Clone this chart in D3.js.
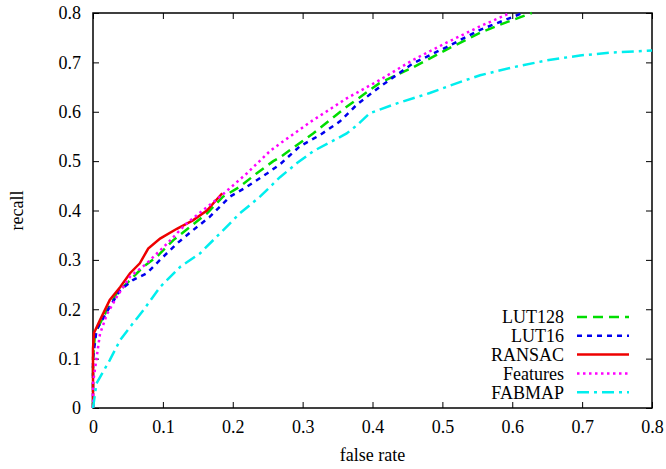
<!DOCTYPE html>
<html>
<head>
<meta charset="utf-8">
<script src="https://cdn.jsdelivr.net/npm/d3@7"></script>
<style>
body { margin: 0; background: #fff; }
svg text { font-family: "Liberation Serif", "Times New Roman", serif; font-size: 18px; fill: #000; }
</style>
</head>
<body>
<script>
// tick values
var xTicks = [0, 0.1, 0.2, 0.3, 0.4, 0.5, 0.6, 0.7, 0.8];
var yTicks = [0, 0.1, 0.2, 0.3, 0.4, 0.5, 0.6, 0.7, 0.8];

// curves: [false rate, recall]
var lut128 = [[0,0],[0,0.1],[0.003,0.152],[0.015,0.185],[0.034,0.232],[0.053,0.259],[0.072,0.286],[0.091,0.306],
  [0.115,0.34],[0.139,0.367],[0.163,0.394],[0.186,0.428],[0.21,0.448],[0.234,0.475],[0.258,0.5],[0.268,0.508],
  [0.315,0.556],[0.363,0.61],[0.41,0.658],[0.458,0.69],[0.506,0.726],[0.554,0.76],[0.582,0.776],[0.628,0.8]];
var lut16 = [[0,0],[0,0.1],[0.005,0.158],[0.024,0.205],[0.039,0.239],[0.057,0.259],[0.077,0.273],[0.096,0.3],
  [0.12,0.333],[0.143,0.36],[0.167,0.387],[0.196,0.428],[0.22,0.448],[0.249,0.475],[0.268,0.494],[0.296,0.53],
  [0.325,0.553],[0.353,0.58],[0.378,0.615],[0.41,0.65],[0.458,0.698],[0.506,0.731],[0.554,0.766],[0.615,0.8]];
var ransac = [[0,0],[0,0.12],[0.0014,0.152],[0.01,0.178],[0.024,0.219],[0.039,0.245],[0.053,0.273],[0.067,0.293],
  [0.079,0.323],[0.096,0.343],[0.12,0.363],[0.143,0.38],[0.163,0.4],[0.185,0.435]];
var features = [[0,0],[0,0.05],[0.01,0.15],[0.02,0.19],[0.034,0.225],[0.053,0.266],[0.077,0.293],[0.106,0.333],
  [0.134,0.374],[0.157,0.4],[0.182,0.428],[0.22,0.475],[0.253,0.52],[0.268,0.536],[0.315,0.583],[0.363,0.627],
  [0.41,0.664],[0.458,0.705],[0.506,0.74],[0.554,0.773],[0.597,0.8]];
var fabmap = [[0,0],[0.005,0.05],[0.024,0.097],[0.039,0.138],[0.053,0.164],[0.072,0.198],[0.096,0.245],
  [0.125,0.286],[0.153,0.313],[0.182,0.354],[0.21,0.394],[0.239,0.428],[0.268,0.468],[0.292,0.496],[0.315,0.52],
  [0.363,0.556],[0.378,0.573],[0.396,0.597],[0.435,0.617],[0.482,0.638],[0.525,0.66],[0.554,0.674],[0.601,0.69],
  [0.649,0.704],[0.697,0.714],[0.744,0.72],[0.8,0.724]];

var names = ["LUT128", "LUT16", "RANSAC", "Features", "FABMAP"];
var colors = ["#00dd00", "#0000ee", "#ee0000", "#ff00ff", "#00eeee"];
var dashes = ["10,6", "5,5", null, "2.5,3.5", "12,5,3,5"];
var series = [lut128, lut16, ransac, features, fabmap];

var W = 666, H = 469;
var margin = {top: 13, right: 14, bottom: 61, left: 93};
var width = W - margin.left - margin.right,
    height = H - margin.top - margin.bottom;

var svg = d3.select("body").append("svg")
  .attr("width", W)
  .attr("height", H)
  .attr("font-family", "Liberation Serif, serif");

var g = svg.append("g")
  .attr("transform", "translate(" + margin.left + "," + margin.top + ")");

var x = d3.scaleLinear().domain([0, 0.8]).range([0, width]);
var y = d3.scaleLinear().domain([0, 0.8]).range([height, 0]);

var fmt = function(d){ return d == 0 ? "0" : d3.format(".1f")(d); };

// tick marks pointing inward on all four sides
g.append("g").attr("class", "axis")
  .attr("transform", "translate(0," + height + ")")
  .call(d3.axisBottom(x).tickValues(xTicks).tickSizeInner(-6).tickSizeOuter(0).tickPadding(12).tickFormat(fmt));
g.append("g").attr("class", "axis")
  .call(d3.axisTop(x).tickValues(xTicks).tickSizeInner(-6).tickSizeOuter(0).tickFormat(""));
g.append("g").attr("class", "axis")
  .call(d3.axisLeft(y).tickValues(yTicks).tickSizeInner(-6).tickSizeOuter(0).tickPadding(12).tickFormat(fmt));
g.append("g").attr("class", "axis")
  .attr("transform", "translate(" + width + ",0)")
  .call(d3.axisRight(y).tickValues(yTicks).tickSizeInner(-6).tickSizeOuter(0).tickFormat(""));

g.selectAll(".axis").attr("font-family", null).attr("font-size", null);
g.selectAll(".axis .domain").remove();
g.selectAll(".axis line").attr("stroke", "#000").attr("stroke-width", 1);
g.selectAll(".axis text").attr("fill", "#000");

// frame
g.append("rect")
  .attr("x", 0).attr("y", 0)
  .attr("width", width).attr("height", height)
  .attr("fill", "none").attr("stroke", "#000").attr("stroke-width", 1.5);

var valueline = d3.line()
  .x(function(d){ return x(d[0]); })
  .y(function(d){ return y(d[1]); });

series.forEach(function(s, i){
  g.append("path")
    .datum(s)
    .attr("fill", "none")
    .attr("stroke", colors[i])
    .attr("stroke-width", 2.5)
    .attr("stroke-dasharray", dashes[i])
    .attr("d", valueline);
});

// legend
var legend = g.append("g").attr("class", "legend");
names.forEach(function(n, i){
  var ly = 304 + i * 18.8;
  legend.append("text")
    .attr("x", 471)
    .attr("y", ly)
    .attr("dy", "0.35em")
    .attr("text-anchor", "end")
    .text(n);
  legend.append("line")
    .attr("x1", 484).attr("x2", 536)
    .attr("y1", ly).attr("y2", ly)
    .attr("stroke", colors[i])
    .attr("stroke-width", 2.5)
    .attr("stroke-dasharray", dashes[i]);
});

// axis titles
svg.append("text")
  .attr("transform", "translate(17," + (margin.top + height / 2) + ") rotate(-90)")
  .attr("text-anchor", "middle")
  .attr("dy", "0.35em")
  .text("recall");
svg.append("text")
  .attr("x", margin.left + width / 2).attr("y", 455)
  .attr("text-anchor", "middle")
  .attr("dy", "0.35em")
  .text("false rate");
</script>
</body>
</html>
